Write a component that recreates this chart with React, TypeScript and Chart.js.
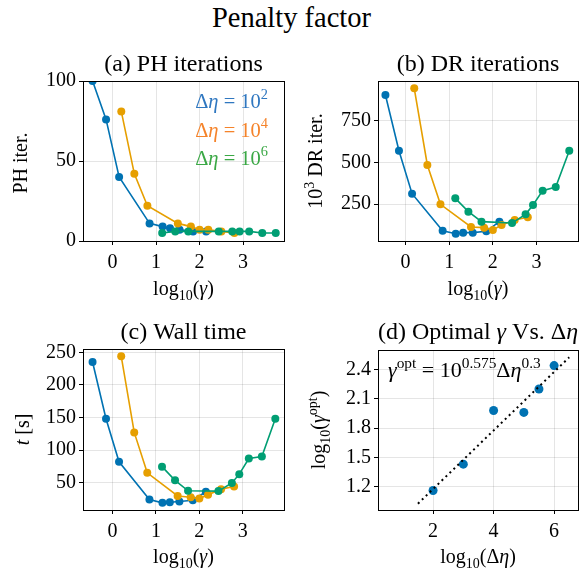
import React, { useEffect, useRef } from 'react';
import { Chart, registerables } from 'chart.js';

Chart.register(...registerables);

const FONT = '"Liberation Serif", "Times New Roman", serif';
Chart.defaults.font.family = FONT;
Chart.defaults.color = '#000';

const BLUE = '#0072B2';
const ORANGE = '#E69F00';
const GREEN = '#009E73';
const LEG_BLUE = '#2f77c0';
const LEG_ORANGE = '#f5832a';
const LEG_GREEN = '#3aa845';
const GRID = 'rgba(0,0,0,0.13)';

// ---------- data ----------
const blueLogGamma = [-0.46, -0.15, 0.15, 0.85, 1.15, 1.32, 1.54, 1.85, 2.15];
const orangeLogGamma = [0.2, 0.5, 0.8, 1.5, 1.8, 2.0, 2.2, 2.5, 2.8];
const greenLogGamma = [1.14, 1.44, 1.74, 2.44, 2.75, 2.92, 3.14, 3.44, 3.75];

const phBlue = [100, 76, 40, 11, 9, 8, 7, 6, 6];
const phOrange = [81, 42, 22, 11, 9, 7, 7, 6, 5];
const phGreen = [5, 6, 6, 6, 6, 6, 6, 5, 5];

const drBlue = [904, 570, 312, 90, 72, 78, 78, 86, 144];
const drOrange = [944, 484, 248, 112, 108, 94, 124, 154, 170];
const drGreen = [284, 204, 144, 136, 188, 244, 330, 352, 570];

const timeBlue = [235, 148, 82, 24, 19, 20, 21, 23, 36];
const timeOrange = [244, 127, 65, 29.5, 27.5, 25.5, 31.5, 40, 44];
const timeGreen = [74.5, 53.5, 37.5, 37, 49.5, 63, 87, 90, 148];

const logDeltaEta = [2, 3, 4, 5, 5.5, 6];
const logGammaOpt = [1.16, 1.43, 1.98, 1.96, 2.2, 2.44];
const fitX = [1.5, 6.5];
const fitY = [1.025, 2.525];

const gammaTicks = [0, 1, 2, 3];
const phTicks = [0, 50, 100];
const drTicks = [250, 500, 750];
const timeTicks = [50, 100, 150, 200, 250];
const etaTicks = [2, 4, 6];
const optTicks = [1.2, 1.5, 1.8, 2.1, 2.4];

type Part = { t: string; sup?: boolean; sub?: boolean; it?: boolean };
type TextItem = {
  parts: Part[];
  x: number;
  y: number;
  size: number;
  color?: string;
  align?: 'left' | 'center' | 'right';
  rot?: boolean;
};

function drawRich(ctx: CanvasRenderingContext2D, item: TextItem, ox: number, oy: number) {
  const { parts, size } = item;
  ctx.save();
  ctx.translate(item.x - ox, item.y - oy);
  if (item.rot) ctx.rotate(-Math.PI / 2);
  ctx.fillStyle = item.color || '#000';
  ctx.textBaseline = 'alphabetic';
  ctx.textAlign = 'left';
  const fontFor = (p: Part) =>
    `${p.it ? 'italic ' : ''}${p.sup || p.sub ? size * 0.7 : size}px ${FONT}`;
  let w = 0;
  const widths = parts.map((p) => {
    ctx.font = fontFor(p);
    const m = ctx.measureText(p.t).width;
    w += m;
    return m;
  });
  let cx = item.align === 'center' ? -w / 2 : item.align === 'right' ? -w : 0;
  parts.forEach((p, i) => {
    ctx.font = fontFor(p);
    const dy = p.sup ? -size * 0.42 : p.sub ? size * 0.24 : 0;
    ctx.fillText(p.t, cx, dy);
    cx += widths[i];
  });
  ctx.restore();
}

type DS = { xs: number[]; ys: number[]; color: string; order: number; line?: boolean; dash?: number[]; radius?: number; width?: number };

type Panel = {
  box: { x: number; y: number; w: number; h: number };
  plot: { l: number; t: number; r: number; b: number };
  xMin: number; xMax: number; yMin: number; yMax: number;
  xTicks: number[]; yTicks: number[];
  yFmt?: (v: number) => string;
  datasets: DS[];
  texts: TextItem[];
};

const Y_AXIS_W = 60;
const X_AXIS_H = 30;
const TICK_SIZE = 20;
const TITLE_SIZE = 24;
const LABEL_SIZE = 20;

const gammaLabel: Part[] = [{ t: 'log' }, { t: '10', sub: true }, { t: '(' }, { t: 'γ', it: true }, { t: ')' }];

const panels: Panel[] = [
  {
    box: { x: 0, y: 0, w: 291, h: 310 },
    plot: { l: 83, t: 81, r: 284, b: 241 },
    xMin: -0.68, xMax: 3.94, yMin: 0, yMax: 100,
    xTicks: gammaTicks, yTicks: phTicks,
    datasets: [
      { xs: blueLogGamma, ys: phBlue, color: BLUE, order: 3 },
      { xs: orangeLogGamma, ys: phOrange, color: ORANGE, order: 2 },
      { xs: greenLogGamma, ys: phGreen, color: GREEN, order: 1 },
    ],
    texts: [
      { parts: [{ t: '(a) PH iterations' }], x: 183.5, y: 71, size: TITLE_SIZE, align: 'center' },
      { parts: gammaLabel, x: 183.5, y: 295, size: LABEL_SIZE, align: 'center' },
      { parts: [{ t: 'PH iter.' }], x: 27, y: 163, size: LABEL_SIZE, align: 'center', rot: true },
      { parts: [{ t: 'Δ' }, { t: 'η', it: true }, { t: ' = 10' }, { t: '2', sup: true }], x: 268, y: 108, size: 20.5, align: 'right', color: LEG_BLUE },
      { parts: [{ t: 'Δ' }, { t: 'η', it: true }, { t: ' = 10' }, { t: '4', sup: true }], x: 268, y: 137, size: 20.5, align: 'right', color: LEG_ORANGE },
      { parts: [{ t: 'Δ' }, { t: 'η', it: true }, { t: ' = 10' }, { t: '6', sup: true }], x: 268, y: 165, size: 20.5, align: 'right', color: LEG_GREEN },
    ],
  },
  {
    box: { x: 291, y: 0, w: 292, h: 310 },
    plot: { l: 378, t: 81, r: 578, b: 241 },
    xMin: -0.63, xMax: 3.95, yMin: 28, yMax: 988,
    xTicks: gammaTicks, yTicks: drTicks,
    datasets: [
      { xs: blueLogGamma, ys: drBlue, color: BLUE, order: 3 },
      { xs: orangeLogGamma, ys: drOrange, color: ORANGE, order: 2 },
      { xs: greenLogGamma, ys: drGreen, color: GREEN, order: 1 },
    ],
    texts: [
      { parts: [{ t: '(b) DR iterations' }], x: 478, y: 71, size: TITLE_SIZE, align: 'center' },
      { parts: gammaLabel, x: 478, y: 295, size: LABEL_SIZE, align: 'center' },
      { parts: [{ t: '10' }, { t: '3', sup: true }, { t: ' DR iter.' }], x: 322, y: 161, size: LABEL_SIZE, align: 'center', rot: true },
    ],
  },
  {
    box: { x: 0, y: 310, w: 291, h: 263 },
    plot: { l: 83, t: 349, r: 284, b: 510 },
    xMin: -0.68, xMax: 3.95, yMin: 8, yMax: 255,
    xTicks: gammaTicks, yTicks: timeTicks,
    datasets: [
      { xs: blueLogGamma, ys: timeBlue, color: BLUE, order: 3 },
      { xs: orangeLogGamma, ys: timeOrange, color: ORANGE, order: 2 },
      { xs: greenLogGamma, ys: timeGreen, color: GREEN, order: 1 },
    ],
    texts: [
      { parts: [{ t: '(c) Wall time' }], x: 183.5, y: 339, size: TITLE_SIZE, align: 'center' },
      { parts: gammaLabel, x: 183.5, y: 563, size: LABEL_SIZE, align: 'center' },
      { parts: [{ t: 't', it: true }, { t: ' [s]' }], x: 29, y: 429.5, size: LABEL_SIZE, align: 'center', rot: true },
    ],
  },
  {
    box: { x: 291, y: 310, w: 292, h: 263 },
    plot: { l: 378, t: 350, r: 578, b: 510 },
    xMin: 0.18, xMax: 6.79, yMin: 0.96, yMax: 2.6,
    xTicks: etaTicks, yTicks: optTicks,
    yFmt: (v) => v.toFixed(1),
    datasets: [
      { xs: logDeltaEta, ys: logGammaOpt, color: BLUE, order: 2, line: false, radius: 4.5 },
      { xs: fitX, ys: fitY, color: '#000', order: 1, line: true, dash: [2, 3.5], radius: 0, width: 2 },
    ],
    texts: [
      { parts: [{ t: '(d) Optimal ' }, { t: 'γ', it: true }, { t: ' Vs. Δ' }, { t: 'η', it: true }], x: 478, y: 339, size: TITLE_SIZE, align: 'center' },
      { parts: [{ t: 'log' }, { t: '10', sub: true }, { t: '(Δ' }, { t: 'η', it: true }, { t: ')' }], x: 478, y: 563, size: LABEL_SIZE, align: 'center' },
      { parts: [{ t: 'log' }, { t: '10', sub: true }, { t: '(' }, { t: 'γ', it: true }, { t: 'opt', sup: true }, { t: ')' }], x: 325, y: 430, size: LABEL_SIZE, align: 'center', rot: true },
      { parts: [{ t: 'γ', it: true }, { t: 'opt', sup: true }, { t: ' = 10' }, { t: '0.575', sup: true }, { t: 'Δ' }, { t: 'η', it: true }, { t: '0.3', sup: true }], x: 388, y: 377, size: 22, align: 'left' },
    ],
  },
];

function PanelChart({ p }: { p: Panel }) {
  const ref = useRef<HTMLCanvasElement | null>(null);
  useEffect(() => {
    if (!ref.current) return;
    const { box, plot } = p;
    const padding = {
      left: plot.l - box.x - Y_AXIS_W,
      top: plot.t - box.y,
      right: box.x + box.w - plot.r,
      bottom: box.y + box.h - plot.b - X_AXIS_H,
    };
    const framePlugin = {
      id: 'frameAndText',
      afterDraw(chart: any) {
        const ctx = chart.ctx as CanvasRenderingContext2D;
        const a = chart.chartArea;
        ctx.save();
        ctx.strokeStyle = '#000';
        ctx.lineWidth = 1;
        const l = Math.round(a.left - 0.5) + 0.5;
        const t = Math.round(a.top - 0.5) + 0.5;
        const r = Math.round(a.right - 0.5) + 0.5;
        const b = Math.round(a.bottom - 0.5) + 0.5;
        ctx.strokeRect(l, t, r - l, b - t);
        ctx.restore();
        p.texts.forEach((it) => drawRich(ctx, it, box.x, box.y));
      },
    };
    const tickFont = { family: FONT, size: TICK_SIZE, style: 'normal' as const, weight: 'normal' as const, lineHeight: 1.2 };
    const chart = new Chart(ref.current, {
      type: 'scatter',
      data: {
        datasets: p.datasets.map((d) => ({
          data: d.xs.map((x, i) => ({ x, y: d.ys[i] })),
          showLine: d.line !== false,
          borderColor: d.color,
          backgroundColor: d.color,
          pointBackgroundColor: d.color,
          pointBorderWidth: 0,
          pointRadius: d.radius ?? 4,
          borderWidth: d.width ?? 1.6,
          borderDash: d.dash || [],
          tension: 0,
          order: d.order,
        })),
      },
      options: {
        animation: false,
        responsive: false,
        devicePixelRatio: 1,
        font: { family: FONT },
        layout: { padding },
        plugins: { legend: { display: false }, tooltip: { enabled: false }, title: { display: false } },
        scales: {
          x: {
            type: 'linear',
            min: p.xMin,
            max: p.xMax,
            afterBuildTicks: (s: any) => {
              s.ticks = p.xTicks.map((v) => ({ value: v }));
            },
            afterFit: (s: any) => {
              s.height = X_AXIS_H;
            },
            grid: { color: GRID, lineWidth: 0.8, tickColor: '#000', tickLength: 4, tickWidth: 1, drawTicks: true },
            border: { display: true, color: '#000', width: 1 },
            ticks: { font: tickFont, color: '#000', padding: 6, maxRotation: 0, autoSkip: false, callback: (v: any) => String(v) },
          },
          y: {
            type: 'linear',
            min: p.yMin,
            max: p.yMax,
            afterBuildTicks: (s: any) => {
              s.ticks = p.yTicks.map((v) => ({ value: v }));
            },
            afterFit: (s: any) => {
              s.width = Y_AXIS_W;
            },
            grid: { color: GRID, lineWidth: 0.8, tickColor: '#000', tickLength: 4, tickWidth: 1, drawTicks: true },
            border: { display: true, color: '#000', width: 1 },
            ticks: {
              font: tickFont,
              color: '#000',
              padding: 3,
              autoSkip: false,
              callback: (v: any) => (p.yFmt ? p.yFmt(Number(v)) : String(v)),
            },
          },
        },
      },
      plugins: [framePlugin],
    } as any);
    return () => chart.destroy();
  }, [p]);
  return (
    <canvas
      ref={ref}
      width={p.box.w}
      height={p.box.h}
      style={{ position: 'absolute', left: p.box.x, top: p.box.y, width: p.box.w, height: p.box.h }}
    />
  );
}

export default function App() {
  return (
    <div style={{ position: 'fixed', left: 0, top: 0, width: 583, height: 573, background: '#fff', overflow: 'hidden' }}>
      <div
        style={{
          position: 'absolute',
          left: 0,
          top: 0,
          width: 583,
          textAlign: 'center',
          fontFamily: FONT,
          fontSize: 28.5,
          lineHeight: '36px',
          color: '#000',
        }}
      >
        Penalty factor
      </div>
      {panels.map((p, i) => (
        <PanelChart key={i} p={p} />
      ))}
    </div>
  );
}
